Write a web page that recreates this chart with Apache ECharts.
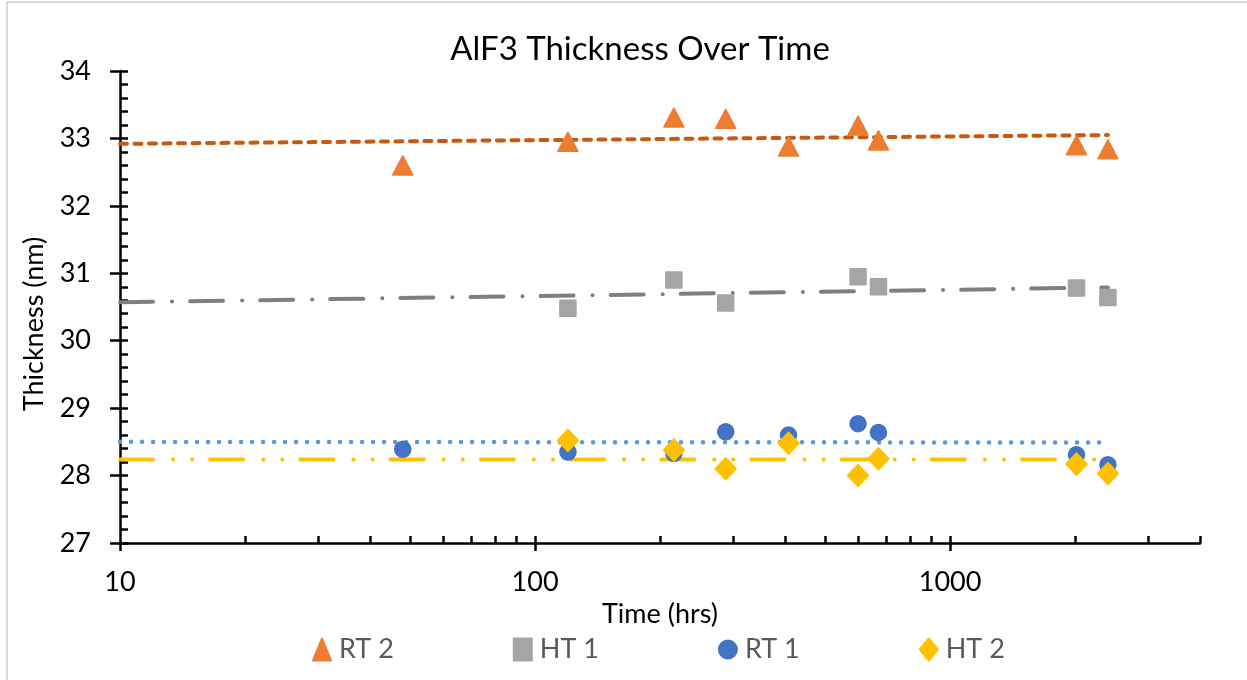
<!DOCTYPE html>
<html>
<head>
<meta charset="utf-8">
<title>AlF3 Thickness Over Time</title>
<script src="https://cdn.jsdelivr.net/npm/echarts@6/dist/echarts.min.js"></script>
<style>
  html, body { margin: 0; padding: 0; background: #fff; }
  #chartDiv { width: 1247px; height: 680px; }
</style>
</head>
<body>
<div id="chartDiv"></div>
<script>
// measurement times (hrs) per series
const timesRT2 = [48, 120, 216, 288, 408, 600, 672, 2016, 2400]
const timesHT1 = [120, 216, 288, 600, 672, 2016, 2400]
const timesRT1 = [48, 120, 216, 288, 408, 600, 672, 2016, 2400]
const timesHT2 = [120, 216, 288, 408, 600, 672, 2016, 2400]

// thickness (nm)
const rt2 = [32.60, 32.95, 33.31, 33.29, 32.88, 33.19, 32.97, 32.90, 32.84]
const ht1 = [30.48, 30.90, 30.56, 30.95, 30.80, 30.78, 30.64]
const rt1 = [28.39, 28.35, 28.33, 28.65, 28.60, 28.77, 28.64, 28.31, 28.16]
const ht2 = [28.52, 28.38, 28.10, 28.48, 28.00, 28.25, 28.17, 28.03]

// trendline end points
const trendX = [10, 2400]
const trendRT2 = [32.92, 33.05]
const trendHT1 = [30.57, 30.79]
const trendRT1 = [28.50, 28.49]
const trendHT2 = [28.24, 28.24]

// minor ticks of the log axis
const xMinorTicks = [20, 30, 40, 50, 60, 70, 80, 90, 100, 200, 300, 400, 500, 600, 700, 800, 900, 1000, 2000, 3000, 4000]

const FONT = 'Lato'
const pair = (xs, ys) => xs.map((x, i) => [x, ys[i]])

const trend = (name, ys, color, dash, width) => ({
  name: name,
  type: 'line',
  xAxisIndex: 0,
  yAxisIndex: 0,
  data: pair(trendX, ys),
  showSymbol: false,
  silent: true,
  z: 1,
  lineStyle: { color: color, width: width, type: dash, cap: 'round' }
})

const dot = (name, xs, ys, symbol, size, color) => ({
  name: name,
  type: 'scatter',
  xAxisIndex: 0,
  yAxisIndex: 0,
  data: pair(xs, ys),
  symbol: symbol,
  symbolSize: size,
  z: 3,
  itemStyle: { color: color, opacity: 1, borderColor: color, borderWidth: 1.5, borderJoin: 'round' }
})

const chart = echarts.init(document.getElementById('chartDiv'))
chart.setOption({
  animation: false,
  textStyle: { fontFamily: FONT },
  grid: { left: 120, top: 71, width: 1080, height: 472, outerBoundsMode: 'none' },
  graphic: [
    {
      type: 'rect',
      shape: { x: 7, y: 2, width: 1300, height: 720 },
      style: { fill: null, stroke: '#d9d9d9', lineWidth: 2 },
      silent: true
    },
    {
      type: 'text',
      x: 640, y: 49,
      style: { text: 'AlF3 Thickness Over Time', font: '33px ' + FONT, fill: '#000', align: 'center', verticalAlign: 'middle' }
    },
    {
      type: 'text',
      x: 34, y: 324,
      rotation: Math.PI / 2,
      style: { text: 'Thickness (nm)', font: '27px ' + FONT, fill: '#000', align: 'center', verticalAlign: 'middle' }
    }
  ],
  legend: {
    data: ['RT 2', 'HT 1', 'RT 1', 'HT 2'],
    left: 307,
    top: 631,
    itemWidth: 18,
    itemHeight: 22,
    itemGap: 119,
    textStyle: { fontFamily: FONT, fontSize: 27, color: '#595959', padding: [0, 0, 0, 3] }
  },
  xAxis: [
    {
      type: 'log',
      logBase: 10,
      min: 10,
      max: 4000,
      position: 'bottom',
      name: 'Time (hrs)',
      nameLocation: 'middle',
      nameGap: 52,
      nameTextStyle: { fontFamily: FONT, fontSize: 27, color: '#000' },
      axisLine: { show: true, lineStyle: { color: '#000', width: 2.5 } },
      axisTick: { show: true, inside: false, length: 8, lineStyle: { color: '#000', width: 2.5 } },
      axisLabel: {
        fontFamily: FONT, fontSize: 27, color: '#000', margin: 26,
        showMaxLabel: false,
        formatter: (v) => String(Math.round(v))
      },
      splitLine: { show: false }
    },
    {
      // helper axis only for the inner (minor) ticks of the log scale
      type: 'value',
      min: 1,
      max: Math.log10(4000),
      position: 'bottom',
      axisLine: { show: false },
      axisTick: {
        show: true, inside: true, length: 7,
        customValues: xMinorTicks.map(v => Math.log10(v)),
        lineStyle: { color: '#000', width: 2.5 }
      },
      axisLabel: { show: false },
      splitLine: { show: false }
    }
  ],
  yAxis: [
    {
      type: 'value',
      min: 27,
      max: 34,
      interval: 1,
      position: 'left',
      axisLine: { show: true, lineStyle: { color: '#000', width: 2.5 } },
      axisTick: { show: true, inside: true, length: 8, lineStyle: { color: '#000', width: 2.5 } },
      minorTick: { show: true, splitNumber: 5, length: 8, lineStyle: { color: '#000', width: 2.5 } },
      axisLabel: { fontFamily: FONT, fontSize: 27, color: '#000', margin: 29 },
      splitLine: { show: false }
    },
    {
      // outer half of the major y ticks
      type: 'value',
      min: 27,
      max: 34,
      interval: 1,
      position: 'left',
      axisLine: { show: false },
      axisTick: { show: true, inside: false, length: 10, lineStyle: { color: '#000', width: 2.5 } },
      axisLabel: { show: false },
      splitLine: { show: false }
    }
  ],
  series: [
    trend('RT 2 trend', trendRT2, '#C55A11', [7, 7.5], 4),
    trend('HT 1 trend', trendHT1, '#7F7F7F', [33, 19, 0.1, 18], 4),
    trend('RT 1 trend', trendRT1, '#5B9BD5', [0.1, 10.9], 4.5),
    trend('HT 2 trend', trendHT2, '#FFC000', [33, 20, 0.1, 19, 0.1, 18], 4),
    dot('RT 2', timesRT2, rt2, 'triangle', [20, 19], '#ED7D31'),
    dot('HT 1', timesHT1, ht1, 'rect', 16, '#A5A5A5'),
    dot('RT 1', timesRT1, rt1, 'circle', 16, '#4472C4'),
    dot('HT 2', timesHT2, ht2, 'diamond', [21, 22], '#FFC000')
  ]
})
</script>
</body>
</html>
